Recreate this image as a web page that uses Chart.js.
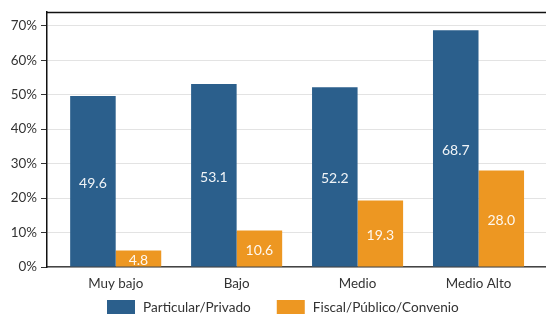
<!DOCTYPE html>
<html>
<head>
<meta charset="utf-8">
<script src="https://cdn.jsdelivr.net/npm/chart.js@4.4.1/dist/chart.umd.min.js"></script>
<style>
  html, body { margin: 0; padding: 0; background: #fff; }
  #wrap { width: 546px; height: 316px; position: relative; }
</style>
</head>
<body>
<div id="wrap"><canvas id="c" width="546" height="316"></canvas></div>
<script>
const categories = ["Muy bajo", "Bajo", "Medio", "Medio Alto"];
const seriesNames = ["Particular/Privado", "Fiscal/Público/Convenio"];
const privado = [49.6, 53.1, 52.2, 68.7];
const fiscal = [4.8, 10.6, 19.3, 28.0];
const yTicks = [0, 10, 20, 30, 40, 50, 60, 70];

const BLUE = '#2b5f8c';
const ORANGE = '#ed9722';
const TEXT = '#333333';
const FONT = 'Lato, "Open Sans", sans-serif';

const toPoints = arr => arr.map((v, i) => ({ x: i, y: v }));

const valueLabels = {
  id: 'valueLabels',
  afterDatasetsDraw(chart) {
    const ctx = chart.ctx;
    ctx.save();
    ctx.font = '14px ' + FONT;
    ctx.fillStyle = 'rgba(255,255,255,0.93)';
    ctx.textAlign = 'center';
    ctx.textBaseline = 'middle';
    chart.data.datasets.forEach((ds, di) => {
      const meta = chart.getDatasetMeta(di);
      meta.data.forEach((bar, i) => {
        const y = (bar.y + bar.base) / 2 + 2;
        ctx.fillText(ds.data[i].y.toFixed(1), bar.x, y);
      });
    });
    ctx.restore();
  }
};

const frame = {
  id: 'frame',
  afterDraw(chart) {
    const { ctx, chartArea } = chart;
    ctx.save();
    ctx.strokeStyle = '#111';
    ctx.lineWidth = 1.6;
    ctx.beginPath();
    ctx.moveTo(chartArea.left - 0.5, chartArea.top + 0.5);
    ctx.lineTo(chartArea.right, chartArea.top + 0.5);
    ctx.stroke();
    ctx.restore();
  }
};

const customLegend = {
  id: 'customLegend',
  afterDraw(chart) {
    const ctx = chart.ctx;
    ctx.save();
    ctx.font = '13.6px ' + FONT;
    ctx.textBaseline = 'middle';
    ctx.textAlign = 'left';
    let x = 107;
    const yTop = 300;
    chart.data.datasets.forEach((ds) => {
      ctx.fillStyle = ds.backgroundColor;
      ctx.fillRect(x, yTop, 28, 14);
      ctx.fillStyle = TEXT;
      ctx.fillText(ds.label, x + 36, yTop + 7.5);
      x += 36 + ctx.measureText(ds.label).width + 26;
    });
    ctx.restore();
  }
};

new Chart(document.getElementById('c'), {
  type: 'bar',
  data: {
    datasets: [
      { label: seriesNames[0], data: toPoints(privado), backgroundColor: BLUE, borderWidth: 0 },
      { label: seriesNames[1], data: toPoints(fiscal), backgroundColor: ORANGE, borderWidth: 0 }
    ]
  },
  options: {
    responsive: false,
    animation: false,
    devicePixelRatio: 1,
    layout: { padding: { top: 12, right: 0, bottom: 22, left: 0 } },
    categoryPercentage: 0.753,
    barPercentage: 1.0,
    plugins: {
      legend: { display: false },
      tooltip: { enabled: false }
    },
    scales: {
      x: {
        type: 'linear',
        min: -0.568,
        max: 3.558,
        offset: false,
        afterBuildTicks: axis => { axis.ticks = categories.map((c, i) => ({ value: i })); },
        afterFit: axis => { axis.height = 27; },
        grid: { display: false },
        border: { display: true, color: '#444', width: 1.5 },
        ticks: {
          autoSkip: false,
          maxRotation: 0,
          padding: 1,
          color: TEXT,
          font: { family: FONT, size: 13.4 },
          callback: v => categories[v]
        }
      },
      y: {
        min: 0,
        max: 74,
        afterBuildTicks: axis => { axis.ticks = yTicks.map(v => ({ value: v })); },
        afterFit: axis => { axis.width = 47; },
        grid: {
          color: '#e3e3e3',
          lineWidth: 1,
          tickLength: 6,
          tickColor: '#333'
        },
        border: { display: true, color: '#111', width: 1.5 },
        ticks: {
          padding: 4,
          color: TEXT,
          font: { family: FONT, size: 13.4 },
          callback: v => v + '%'
        }
      }
    }
  },
  plugins: [valueLabels, frame, customLegend]
});
</script>
</body>
</html>
